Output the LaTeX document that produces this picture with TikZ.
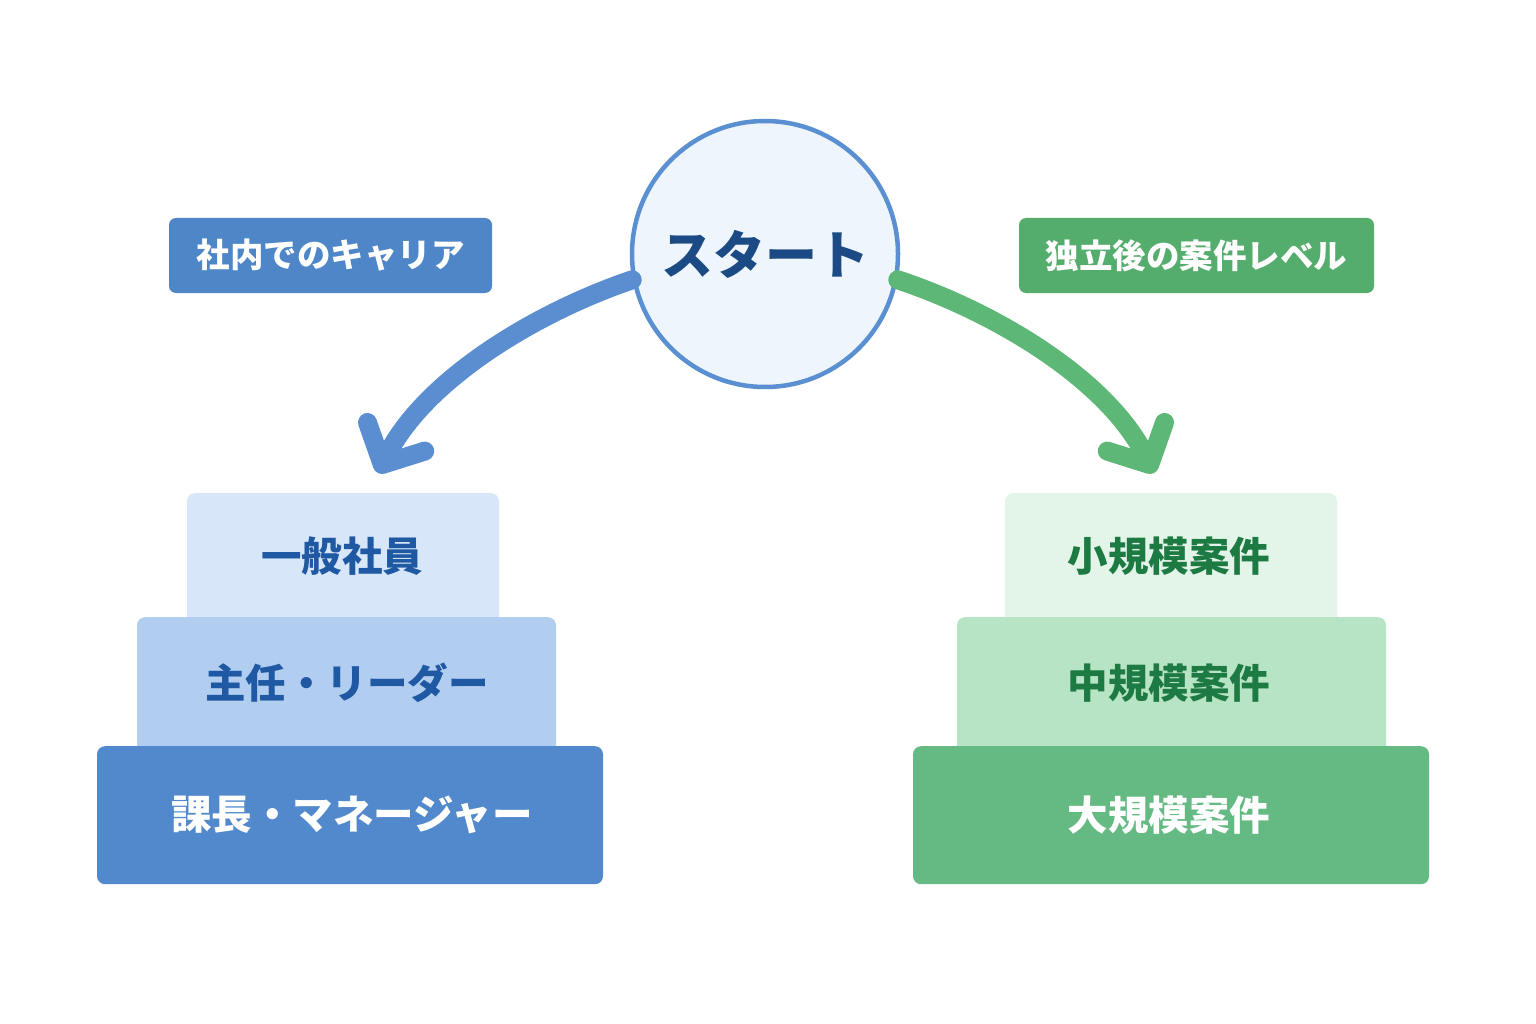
\documentclass[tikz,border=0pt]{standalone}
\usepackage{fontspec}
\setmainfont{Noto Sans CJK JP}
\usetikzlibrary{arrows.meta}
\definecolor{circbd}{HTML}{5A8FD2}
\definecolor{circfill}{HTML}{EEF5FD}
\definecolor{navy}{HTML}{1C4A85}
\definecolor{blab}{HTML}{4F86C8}
\definecolor{glab}{HTML}{55AD6D}
\definecolor{barrow}{HTML}{5A8ED0}
\definecolor{garrow}{HTML}{5DB776}
\definecolor{bone}{HTML}{D7E6F8}
\definecolor{btwo}{HTML}{B1CEF1}
\definecolor{bthree}{HTML}{5289CC}
\definecolor{gone}{HTML}{E3F4E8}
\definecolor{gtwo}{HTML}{B6E4C5}
\definecolor{gthree}{HTML}{64BA82}
\definecolor{btext}{HTML}{1F58A3}
\definecolor{gtext}{HTML}{1D7A43}
\begin{document}
\begin{tikzpicture}[x=1pt,y=-1pt,
  tier/.style={rectangle, rounded corners=8pt, draw=none, anchor=north, inner sep=0pt},
  tiertext/.style={font=\bfseries\fontsize{40.5}{44}\selectfont},
  tag/.style={rectangle, rounded corners=7pt, text=white, inner sep=0pt, font=\bfseries\fontsize{33.5}{38}\selectfont},
  flow/.style={line width=19pt, line cap=round, -{Straight Barb[length=31pt, width=64pt, round]}}
]
\fill[white] (0,0) rectangle (1536,1024);
\useasboundingbox (0,0) rectangle (1536,1024);

% tags
\node[tag, fill=blab, minimum width=323pt, minimum height=75pt] (tagL) at (330.5,255.5) {社内でのキャリア};
\node[tag, fill=glab, minimum width=355pt, minimum height=75pt] (tagR) at (1196.5,255.5) {独立後の案件レベル};

% left stack
\node[tier, fill=bone, minimum width=312pt, minimum height=137pt] (l1) at (343,493) {};
\node[tier, fill=btwo, minimum width=419pt, minimum height=143pt] (l2) at (346.5,617) {};
\node[tier, fill=bthree, minimum width=506pt, minimum height=138pt] (l3) at (350,746) {};
\node[tiertext, text=btext] (t1) at (342,556) {一般社員};
\node[tiertext, text=btext] (t2) at (347,683) {主任・リーダー};
\node[tiertext, text=white] (t3) at (352,815) {課長・マネージャー};

% right stack
\node[tier, fill=gone, minimum width=332pt, minimum height=137pt] (r1) at (1171,493) {};
\node[tier, fill=gtwo, minimum width=429pt, minimum height=143pt] (r2) at (1171.5,617) {};
\node[tier, fill=gthree, minimum width=516pt, minimum height=138pt] (r3) at (1171,746) {};
\node[tiertext, text=gtext] (s1) at (1169,556) {小規模案件};
\node[tiertext, text=gtext] (s2) at (1169,683) {中規模案件};
\node[tiertext, text=white] (s3) at (1169,815) {大規模案件};

% start circle
\node[circle, draw=circbd, line width=4.5pt, fill=circfill, minimum size=266pt, inner sep=0pt,
      text=navy, font=\bfseries\fontsize{52}{56}\selectfont] (start) at (765,254) {スタート};

% arrows
\coordinate (tipL) at (378,473);
\coordinate (tipR) at (1154,473);
\draw[flow, draw=barrow] (start.191) .. controls (537,312) and (425,379) .. (tipL);
\draw[flow, draw=garrow] (start.-11) .. controls (995,312) and (1107,379) .. (tipR);
\end{tikzpicture}
\end{document}
